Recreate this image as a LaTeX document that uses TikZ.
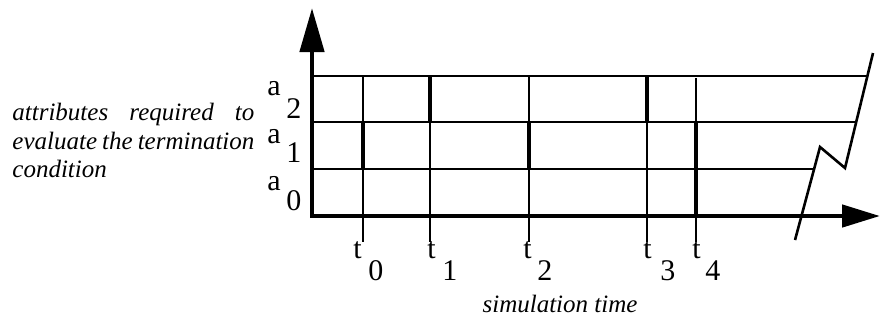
\documentclass[tikz,border=0pt]{standalone}
\usepackage{fontspec}
\setmainfont{Liberation Serif}
\usetikzlibrary{arrows.meta}
\tikzset{
  axisln/.style={line width=2.3pt, line join=miter},
  gridln/.style={line width=1.1pt},
  chg/.style={line width=2.1pt},
  brk/.style={line width=1.3pt, line join=miter},
  lbl/.style={inner sep=0pt, anchor=base west, font=\fontsize{15}{17}\selectfont},
  note/.style={inner sep=0pt, anchor=base west, font=\fontsize{12.5}{14}\selectfont\itshape},
}

\begin{document}
\begin{tikzpicture}[x=0.5pt,y=-0.5pt]
\useasboundingbox (0,0) rectangle (881,329);
\coordinate (o) at (312,216);
\coordinate (ytip) at (312,8);
\coordinate (xtip) at (880,216);
% attribute rows
\draw[gridln] (312,76) -- (867,76);
\draw[gridln] (312,122) -- (856,122);
\draw[gridln] (312,169) -- (814,169);
% time marks
\draw[gridln] (363,76) -- (363,242);
\draw[gridln] (430,76) -- (430,242);
\draw[gridln] (529,76) -- (529,242);
\draw[gridln] (647,76) -- (647,242);
\draw[gridln] (696,78) -- (696,242);
% changed values
\draw[chg] (363,122) -- (363,169);
\draw[chg] (430,76) -- (430,122);
\draw[chg] (529,122) -- (529,169);
\draw[chg] (647,76) -- (647,122);
\draw[chg] (696,122) -- (696,216);
% axes
\draw[axisln, {Triangle[length=22pt,width=12pt]}-{Triangle[length=19pt,width=11pt]}] (ytip) -- (o) -- (xtip);
% break
\draw[brk] (795,240) -- (820,147) -- (845,168) -- (873,53);

\node[lbl] (a2) at (267,95) {a};
\node[lbl] (a2s) at (286,118) {2};
\node[lbl] (a1) at (267,143) {a};
\node[lbl] (a1s) at (286,162) {1};
\node[lbl] (a0) at (267,190) {a};
\node[lbl] (a0s) at (286,210) {0};

\node[lbl] (t0) at (353,258) {t};
\node[lbl] (t0s) at (368,280) {0};
\node[lbl] (t1) at (427,258) {t};
\node[lbl] (t1s) at (442,280) {1};
\node[lbl] (t2) at (523,258) {t};
\node[lbl] (t2s) at (537,280) {2};
\node[lbl] (t3) at (643,258) {t};
\node[lbl] (t3s) at (660,280) {3};
\node[lbl] (t4) at (692,258) {t};
\node[lbl] (t4s) at (705,280) {4};

\node[note] (attr1) at (12,120) {\makebox[121pt][s]{attributes required to}};
\node[note] (attr2) at (12,149) {\makebox[121pt][s]{evaluate the termination}};
\node[note] (attr3) at (12,177) {condition};
\node[note, anchor=base] (simt) at (560,312) {simulation time};
\end{tikzpicture}
\end{document}
